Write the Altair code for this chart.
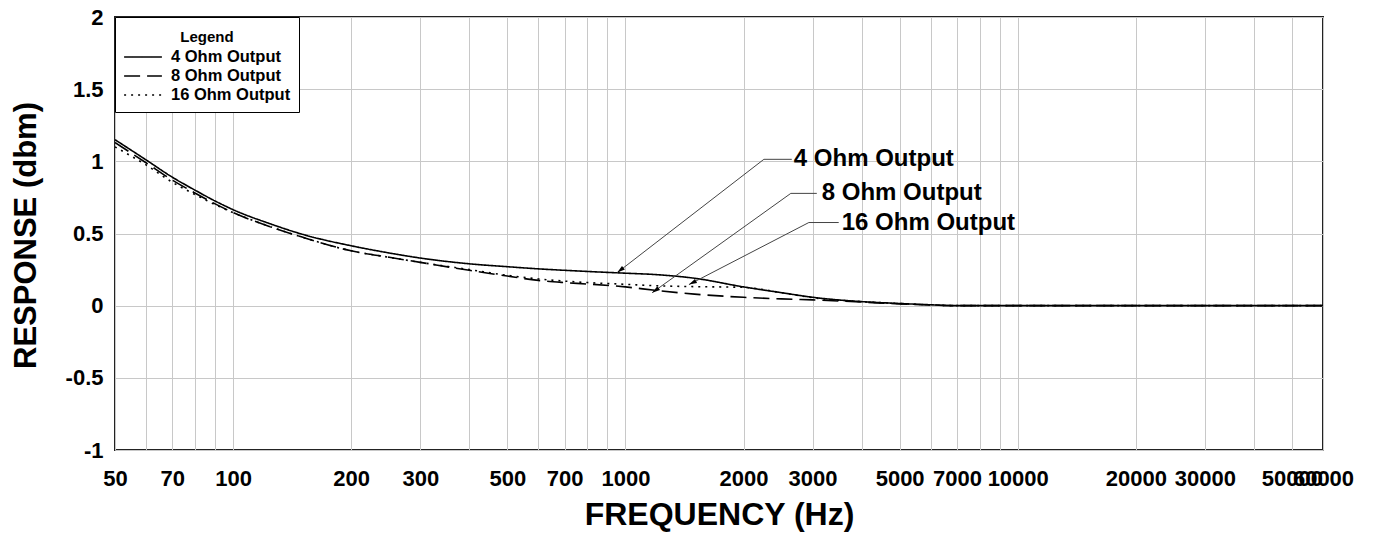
import altair as alt
import pandas as pd

# ---- data ----
freq = [50, 60, 70, 80, 90, 100, 125, 150, 200, 250, 300, 400, 500, 600, 700, 800,
        1000, 1200, 1500, 2000, 2500, 3000, 4000, 5000, 6000, 7000, 10000, 20000, 60000]
ohm4 = [1.15, 1.01, 0.89, 0.80, 0.725, 0.665, 0.565, 0.495, 0.415, 0.365, 0.33, 0.29, 0.27, 0.255,
        0.245, 0.237, 0.225, 0.215, 0.19, 0.13, 0.09, 0.058, 0.028, 0.015, 0.006, 0, 0, 0, 0]
ohm8 = [1.13, 0.99, 0.87, 0.78, 0.705, 0.645, 0.545, 0.475, 0.38, 0.335, 0.30, 0.245, 0.205, 0.175,
        0.16, 0.15, 0.13, 0.105, 0.08, 0.058, 0.047, 0.04, 0.025, 0.012, 0.005, 0, 0, 0, 0]
ohm16 = [1.10, 0.975, 0.855, 0.77, 0.70, 0.645, 0.545, 0.475, 0.38, 0.335, 0.30, 0.25, 0.21, 0.185,
         0.17, 0.16, 0.148, 0.138, 0.132, 0.127, 0.09, 0.055, 0.028, 0.015, 0.006, 0, 0, 0, 0]
series = ["4 Ohm Output", "8 Ohm Output", "16 Ohm Output"]

x_grid_values = [50, 60, 70, 80, 90, 100, 200, 300, 400, 500, 600, 700, 800, 900,
                 1000, 2000, 3000, 4000, 5000, 6000, 7000, 8000, 9000,
                 10000, 20000, 30000, 40000, 50000, 60000]
x_label_values = [50, 70, 100, 200, 300, 500, 700, 1000, 2000, 3000, 5000, 7000,
                  10000, 20000, 30000, 50000, 60000]
y_values = [-1, -0.5, 0, 0.5, 1, 1.5, 2]

# annotation callouts (data coordinates)
ann_text_f = [2687, 3166, 3560]
ann_text_v = [1.014, 0.778, 0.576]
ann_start_f = [2254, 2640, 2935]
ann_elbow_f = [2655, 3075, 3497]
ann_tip_f = [953, 1170, 1452]
ann_tip_v = [0.229, 0.09, 0.146]
ann_angle = [232, 235, 243]

# ---- tables ----
rows = []
for name, vals in zip(series, [ohm4, ohm8, ohm16]):
    for f, v in zip(freq, vals):
        rows.append({"freq": f, "resp": v, "series": name})
df = pd.DataFrame(rows)

seg_rows = []
for i in range(3):
    seg_rows.append({"x1": ann_start_f[i], "y1": ann_text_v[i], "x2": ann_tip_f[i], "y2": ann_tip_v[i]})
    seg_rows.append({"x1": ann_start_f[i], "y1": ann_text_v[i], "x2": ann_elbow_f[i], "y2": ann_text_v[i]})
seg_df = pd.DataFrame(seg_rows)
tip_df = pd.DataFrame({"f": ann_tip_f, "v": ann_tip_v, "angle": ann_angle})
txt_df = pd.DataFrame({"f": ann_text_f, "v": ann_text_v, "label": series})

FONT = "Liberation Sans"

xscale = alt.Scale(type="log", domain=[50, 60000], nice=False)
yscale = alt.Scale(domain=[-1, 2], nice=False, zero=False)

label_list = ",".join(str(v) for v in x_label_values)
xaxis = alt.Axis(
    values=x_grid_values,
    labelExpr=f"indexof([{label_list}], datum.value) >= 0 ? '' + datum.value : ''",
    labelOverlap=False, labelFlush=False, labelBound=False,
    ticks=False, domain=False,
    grid=True, gridColor="#c8c8c8", gridWidth=1,
    labelFont=FONT, labelFontSize=22, labelFontWeight="bold", labelColor="black",
    labelPadding=18,
    titleFont=FONT, titleFontSize=32, titleFontWeight="bold", titleColor="black",
    titleY=64, titleBaseline="middle",
)
yaxis = alt.Axis(
    values=y_values,
    labelExpr="'' + datum.value",
    ticks=False, domain=False,
    grid=True, gridColor="#c8c8c8", gridWidth=1,
    labelFont=FONT, labelFontSize=22, labelFontWeight="bold", labelColor="black",
    labelPadding=12,
    titleFont=FONT, titleFontSize=31, titleFontWeight="bold", titleColor="black",
    titleX=-89, titleY=218, titleAngle=270, titleBaseline="middle", titleAlign="center",
)


def xenc(field):
    return alt.X(field, type="quantitative", scale=xscale, axis=xaxis, title="FREQUENCY (Hz)")


def yenc(field):
    return alt.Y(field, type="quantitative", scale=yscale, axis=yaxis, title="RESPONSE (dbm)")


lines = alt.Chart(df).mark_line(
    color="black", strokeWidth=1.6, clip=True, interpolate="monotone"
).encode(
    x=xenc("freq"),
    y=yenc("resp"),
    strokeDash=alt.StrokeDash(
        "series:N",
        scale=alt.Scale(domain=series, range=[[1, 0], [16, 7], [2, 5]]),
        sort=series,
        legend=alt.Legend(
            title="Legend", orient="top-left", offset=0, padding=8,
            strokeColor="black", fillColor="white",
            titleFont=FONT, titleFontSize=15, titleFontWeight="bold", titleColor="black",
            titleAnchor="middle", titlePadding=7, titleLineHeight=26, titleBaseline="line-top",
            labelFont=FONT, labelFontSize=16.5, labelFontWeight="bold", labelColor="black",
            labelOffset=18, symbolType="M-2.1,0H2.1", symbolSize=324, symbolOffset=10,
            symbolStrokeWidth=1.5, symbolStrokeColor="black", symbolFillColor="transparent",
            rowPadding=0,
        ),
    ),
)

segs = alt.Chart(seg_df).mark_rule(color="#444444", strokeWidth=1).encode(
    x=xenc("x1"), x2="x2:Q", y=yenc("y1"), y2="y2:Q"
)

tips = alt.Chart(tip_df).mark_point(
    shape="M0,0L-0.65,2.2L0.65,2.2Z", filled=True, color="black", opacity=1, size=52
).encode(
    x=xenc("f"), y=yenc("v"), angle=alt.Angle("angle:Q", scale=None)
)

texts = alt.Chart(txt_df).mark_text(
    align="left", baseline="middle", font=FONT, fontSize=24, fontWeight="bold", color="black"
).encode(
    x=xenc("f"), y=yenc("v"), text="label:N"
)

chart = alt.layer(lines, segs, tips, texts).properties(
    width=1208, height=433,
    autosize=alt.AutoSizeParams(type="none"),
    padding={"left": 107, "top": 9, "right": 44, "bottom": 83},
    background="white",
).configure_view(stroke="#222222", strokeWidth=2)

chart.save("out.html", embed_options={"renderer": "svg", "actions": False})
